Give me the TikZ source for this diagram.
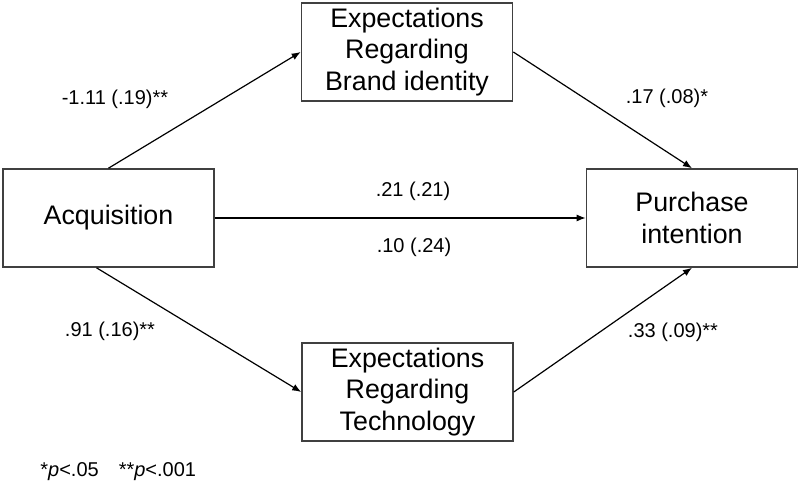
\documentclass[tikz,border=0pt]{standalone}
\usepackage{fontspec}
\setmainfont{Liberation Sans}
\usetikzlibrary{arrows.meta,positioning}

\tikzset{
  box/.style={draw=black!75, line width=0.8pt, minimum width=105.5pt,
    minimum height=49pt, inner sep=0pt, align=center,
    font=\fontsize{13.4}{15.8}\selectfont},
  coef/.style={font=\fontsize{10}{12}\selectfont},
}

\begin{document}
\begin{tikzpicture}[x=0.5pt,y=-0.5pt,on grid,>={Latex[length=4.5pt,width=3.5pt]}]
        \useasboundingbox (0,0) rectangle (799,485);
        \node[box] (acq) at (108.5,218) {Acquisition};
        \node[box] (brand) [above right=83pt and 149.25pt of acq] {Expectations\\Regarding\\Brand identity};
        \node[box] (tech) [below right=87pt and 149.5pt of acq] {Expectations\\Regarding\\Technology};
        \node[box] (pi) [right=291.75pt of acq] {Purchase\\intention};
        % path coefficients
        \node[coef] (a1) at (115,99) {-1.11 (.19)**};
        \node[coef] (b1) at (667,98) {.17 (.08)*};
        \node[coef] (c) at (413,191) {.21 (.21)};
        \node[coef] (cp) at (414,247) {.10 (.24)};
        \node[coef] (a2) at (110,331) {.91 (.16)**};
        \node[coef] (b2) at (673,332) {.33 (.09)**};
        \node[coef, anchor=west, inner sep=0pt] (note) at (40,472) {*\textit{p}<.05\quad **\textit{p}<.001};
        \path[->, line width=0.6pt]
        (acq.north) edge (brand.west)
        (brand.east) edge (pi.north)
        (acq.east) edge (pi.west)
        ([xshift=-6pt]acq.south) edge (tech.west)
        (tech.east) edge (pi.south)
        ;
      \end{tikzpicture}
\end{document}
